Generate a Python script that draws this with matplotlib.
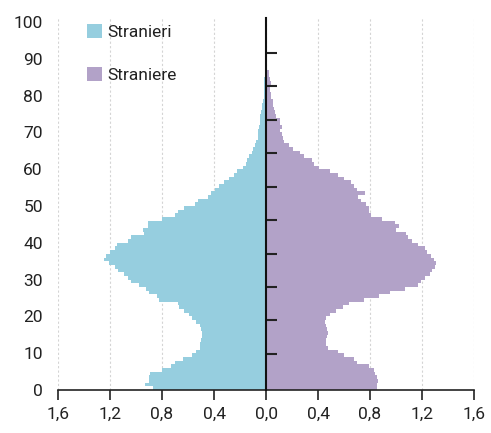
import matplotlib
matplotlib.use("Agg")
import matplotlib.pyplot as plt
from matplotlib.patches import Patch
import numpy as np

plt.rcParams['font.family'] = ['Roboto', 'DejaVu Sans']
FS = 12.5

ages = list(range(0, 101))
stranieri = [
    0.87, 0.93, 0.90, 0.90, 0.89, 0.80, 0.73, 0.70, 0.64, 0.57,
    0.54, 0.51, 0.51, 0.50, 0.49, 0.49, 0.50, 0.51, 0.54, 0.57,
    0.59, 0.63, 0.67, 0.68, 0.82, 0.84, 0.90, 0.92, 0.98, 1.04,
    1.06, 1.09, 1.14, 1.16, 1.21, 1.25, 1.23, 1.20, 1.16, 1.15,
    1.06, 1.04, 0.94, 0.95, 0.91, 0.91, 0.80, 0.70, 0.68, 0.63,
    0.55, 0.52, 0.45, 0.42, 0.39, 0.36, 0.32, 0.285, 0.25, 0.22,
    0.18, 0.156, 0.145, 0.13, 0.11, 0.10, 0.085, 0.075, 0.065, 0.06,
    0.06, 0.055, 0.05, 0.045, 0.045, 0.035, 0.03, 0.03, 0.025, 0.018,
    0.016, 0.015, 0.014, 0.013, 0.012, 0.01, 0.01, 0.01, 0.008, 0.008,
    0.007, 0.006, 0.006, 0.005, 0.005, 0.004, 0.004, 0.004, 0.003, 0.003, 0.003,
]
straniere = [
    0.85, 0.85, 0.86, 0.85, 0.84, 0.83, 0.79, 0.70, 0.68, 0.60,
    0.55, 0.48, 0.46, 0.46, 0.47, 0.48, 0.47, 0.46, 0.45, 0.46,
    0.49, 0.54, 0.59, 0.64, 0.75, 0.87, 0.95, 1.07, 1.17, 1.19,
    1.22, 1.26, 1.28, 1.30, 1.31, 1.29, 1.27, 1.24, 1.22, 1.17,
    1.12, 1.09, 1.08, 1.00, 1.02, 0.99, 0.89, 0.81, 0.79, 0.79,
    0.77, 0.73, 0.71, 0.76, 0.70, 0.68, 0.65, 0.60, 0.55, 0.49,
    0.41, 0.37, 0.35, 0.29, 0.26, 0.21, 0.18, 0.14, 0.13, 0.12,
    0.11, 0.12, 0.11, 0.11, 0.08, 0.067, 0.065, 0.054, 0.05, 0.04,
    0.04, 0.028, 0.028, 0.035, 0.028, 0.025, 0.02, 0.01, 0.008, 0.008,
    0.006, 0.005, 0.005, 0.004, 0.004, 0.004, 0.003, 0.003, 0.003, 0.002, 0.002,
]
x_ticks = [-1.6, -1.2, -0.8, -0.4, 0.0, 0.4, 0.8, 1.2, 1.6]
x_tick_labels = ["1,6", "1,2", "0,8", "0,4", "0,0", "0,4", "0,8", "1,2", "1,6"]
y_ticks = [0, 10, 20, 30, 40, 50, 60, 70, 80, 90, 100]
series_labels = ["Stranieri", "Straniere"]

c_m = "#96CEDF"
c_f = "#B2A2C8"

fig = plt.figure(figsize=(4.91, 4.33), dpi=100)
ax = fig.add_axes([58/491, 1 - 390/433, (474-58)/491, (390-18.3)/433])

ax.barh(ages, [-v for v in stranieri], height=1.0, align='edge', color=c_m, linewidth=0, zorder=2)
ax.barh(ages, straniere, height=1.0, align='edge', color=c_f, linewidth=0, zorder=2)

ax.set_xlim(-1.6, 1.6)
ax.set_ylim(0, 101)
ax.set_xticks(x_ticks)
ax.set_xticklabels(x_tick_labels)
ax.set_yticks(y_ticks)
ax.set_yticklabels([str(v) for v in y_ticks])
ax.tick_params(axis='x', direction='out', length=7, width=1.2, color='#222222',
               labelsize=FS, pad=5, labelcolor='#222222')
ax.tick_params(axis='y', length=0, labelsize=FS, pad=11, labelcolor='#222222')
for s in ['top', 'right', 'left']:
    ax.spines[s].set_visible(False)
ax.spines['bottom'].set_color('#222222')
ax.spines['bottom'].set_linewidth(1.2)
ax.grid(axis='x', color='#d4d4d4', linestyle=(0, (2, 2)), linewidth=0.8, zorder=0)
ax.set_axisbelow(True)

# center axis with ticks
ax2 = ax.twinx()
ax2.set_ylim(0, 101)
for s in ['top', 'right', 'bottom']:
    ax2.spines[s].set_visible(False)
ax2.spines['left'].set_position(('data', 0))
ax2.spines['left'].set_color('#111111')
ax2.spines['left'].set_linewidth(1.5)
ax2.yaxis.set_ticks_position('left')
ax2.set_yticks([0.71 + 9.09 * k for k in range(1, 11)])
ax2.tick_params(axis='y', direction='in', length=8, width=1.5, color='#222222',
                labelleft=False, labelright=False)

hs = 15 / (FS * 100 / 72)
handles = [Patch(facecolor=c_m, edgecolor='none'), Patch(facecolor=c_f, edgecolor='none')]
leg = ax.legend(handles, series_labels, loc='upper left', bbox_to_anchor=(0.069, 0.985),
                frameon=False, fontsize=FS, handlelength=hs, handleheight=hs,
                handletextpad=0.35, labelspacing=1.55, borderaxespad=0, borderpad=0)
for t in leg.get_texts():
    t.set_color('#222222')

fig.savefig("out.png", dpi=100)
